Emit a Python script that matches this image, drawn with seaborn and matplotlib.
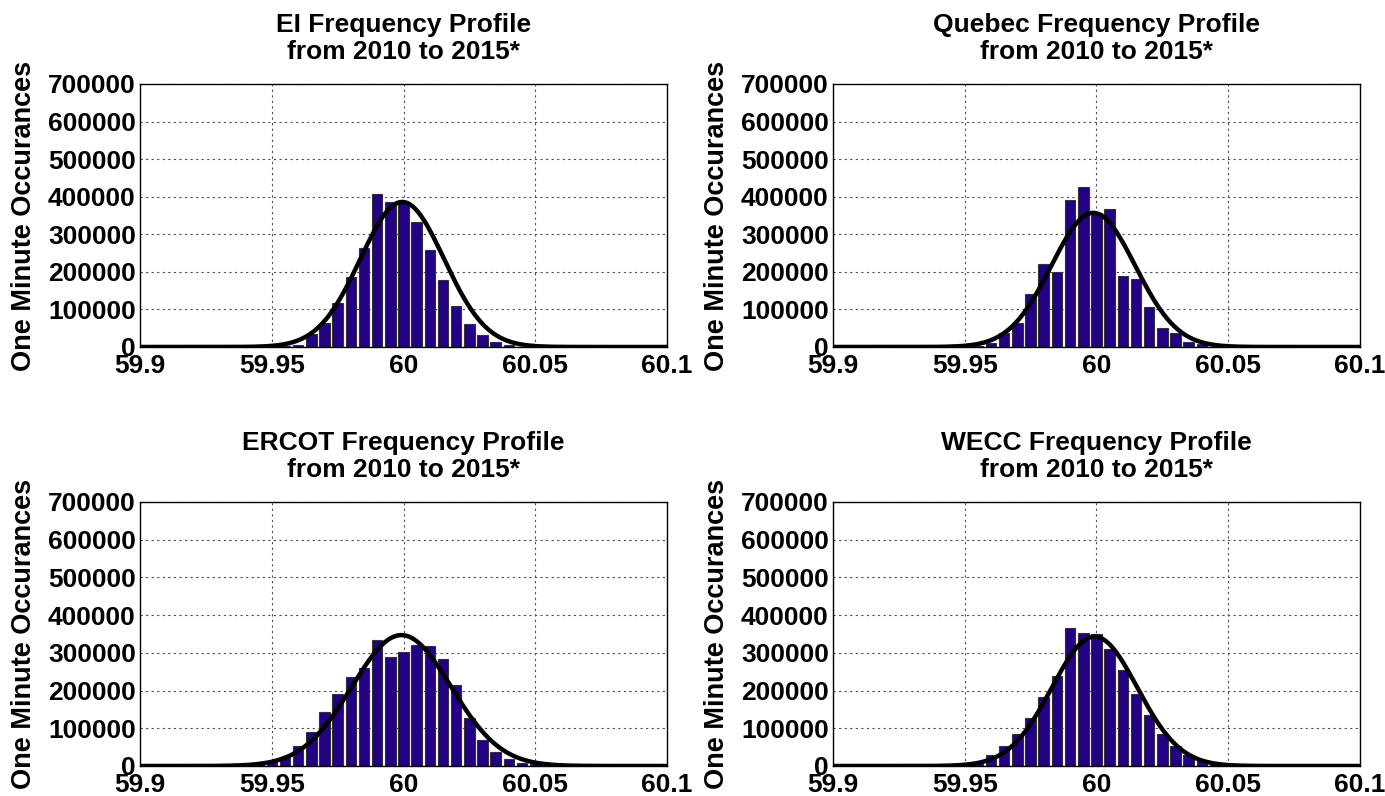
import numpy as np
import matplotlib
matplotlib.use("Agg")
import matplotlib.pyplot as plt
import seaborn as sns

# bin centres in Hz, shared by all four histograms
bin_centers = [59.94, 59.945, 59.95, 59.955, 59.96, 59.965, 59.97, 59.975,
               59.98, 59.985, 59.99, 59.995, 60.0, 60.005, 60.01, 60.015,
               60.02, 60.025, 60.03, 60.035, 60.04, 60.045, 60.05]

# one minute occurances per bin
ei_counts = [0, 0, 0, 2000, 4000, 34000, 64000, 117000, 187000, 263000,
             406000, 385000, 385000, 332000, 258000, 178000, 108000, 60000,
             31000, 12000, 4000, 0, 0]
quebec_counts = [0, 0, 0, 3000, 11000, 38000, 64000, 140000, 220000, 200000,
                 391000, 427000, 356000, 366000, 188000, 180000, 106000, 51000,
                 36000, 12000, 7000, 0, 0]
ercot_counts = [2000, 4000, 10000, 25000, 53000, 89000, 144000, 192000, 237000,
                260000, 333000, 289000, 302000, 320000, 319000, 284000, 214000,
                127000, 69000, 37000, 18000, 8000, 4000]
wecc_counts = [0, 0, 2000, 8000, 30000, 53000, 85000, 128000, 183000, 239000,
               365000, 352000, 350000, 311000, 254000, 192000, 134000, 86000,
               52000, 29000, 14000, 6000, 2000]

# fitted normal curve for each region: mean, std, peak height
ei_fit = (59.9995, 0.0159, 386000)
quebec_fit = (59.9988, 0.0159, 357000)
ercot_fit = (59.9992, 0.0188, 347000)
wecc_fit = (59.9993, 0.0162, 343000)

regions = ["EI", "Quebec", "ERCOT", "WECC"]
x_ticks = [59.9, 59.95, 60, 60.05, 60.1]
x_tick_labels = ["59.9", "59.95", "60", "60.05", "60.1"]
y_ticks = [0, 100000, 200000, 300000, 400000, 500000, 600000, 700000]

sns.set_theme(style="white")
plt.rcParams['font.family'] = ['Liberation Sans', 'DejaVu Sans']
plt.rcParams['font.weight'] = 'bold'
plt.rcParams['text.color'] = 'black'
plt.rcParams['axes.labelcolor'] = 'black'
plt.rcParams['xtick.color'] = 'black'
plt.rcParams['ytick.color'] = 'black'
plt.rcParams['axes.edgecolor'] = 'black'
plt.rcParams['axes.linewidth'] = 1.0

fig = plt.figure(figsize=(13.85, 7.96), dpi=100)
rects = [[0.1011, 0.5641, 0.3805, 0.3304],
         [0.6014, 0.5641, 0.3805, 0.3304],
         [0.1011, 0.0377, 0.3805, 0.3317],
         [0.6014, 0.0377, 0.3805, 0.3317]]

half = 0.0025
edges = [c - half for c in bin_centers] + [bin_centers[-1] + half]
bar_color = '#230084'
xs = np.linspace(59.9, 60.1, 600)

all_counts = [ei_counts, quebec_counts, ercot_counts, wecc_counts]
all_fits = [ei_fit, quebec_fit, ercot_fit, wecc_fit]

for rect, name, counts, fit in zip(rects, regions, all_counts, all_fits):
    ax = fig.add_axes(rect)
    sns.histplot(x=bin_centers, weights=counts, bins=edges, shrink=0.8,
                 color=bar_color, edgecolor='0.2', linewidth=0.8, alpha=1, ax=ax)
    mu, sd, peak = fit
    curve = peak * np.exp(-0.5 * ((xs - mu) / sd) ** 2)
    sns.lineplot(x=xs, y=curve, color='black', linewidth=3.2,
                 estimator=None, sort=False, ax=ax)
    ax.set_xlim(59.9, 60.1)
    ax.set_ylim(0, 700000)
    ax.set_xticks(x_ticks, x_tick_labels)
    ax.set_yticks(y_ticks, [str(v) for v in y_ticks])
    ax.grid(True, linestyle=(0, (2, 3)), color='0.3', linewidth=0.8)
    ax.set_axisbelow(True)
    for s in ax.spines.values():
        s.set_visible(True)
        s.set_color('black')
    ax.tick_params(labelsize=19, length=0, pad=3, colors='black')
    ax.tick_params(axis='x', pad=5)
    ax.set_title(name + " Frequency Profile\nfrom 2010 to 2015*",
                 fontsize=19, fontweight='bold', pad=18, linespacing=1.15,
                 color='black')
    ax.set_ylabel("One Minute Occurances", fontsize=19.5, fontweight='bold',
                  labelpad=8, color='black')
    ax.set_xlabel("")
    for lab in ax.get_xticklabels() + ax.get_yticklabels():
        lab.set_fontweight('bold')

fig.savefig("out.png", dpi=100)
